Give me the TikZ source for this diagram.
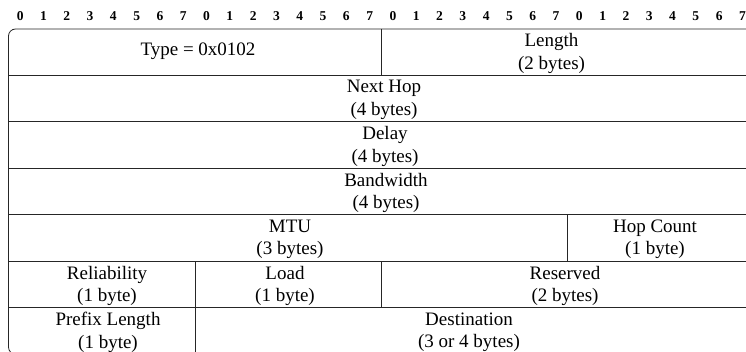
\documentclass[tikz,border=0pt]{standalone}
\usepackage{fontspec}
\setmainfont{Liberation Serif}
\begin{document}
\begin{tikzpicture}[x=1pt,y=-1pt,
  grid/.style={line width=0.8pt, draw=black!85},
  field/.style={font=\fontsize{19}{22.5}\selectfont, align=center, inner sep=0pt, text=black},
  bitnum/.style={font=\fontsize{13.5}{15}\selectfont\bfseries, anchor=base, inner sep=0pt}]
\useasboundingbox (0,0) rectangle (746,352);
\clip (0,0) rectangle (746,352);
% bit numbers
\foreach \i in {0,...,31} {
  \pgfmathtruncatemacro\d{mod(\i,8)}
  \node[bitnum] (b\i) at ({8.5+(\i+0.5)*23.3},20.5) {\d};
}
% outer frame and row lines
\draw[grid, rounded corners=7pt] (8.5,29) rectangle (754,354.15);
\foreach \y in {75.45,121.9,168.35,214.8,261.25,307.7}
  \draw[grid] (8.5,\y) -- (754,\y);
% vertical dividers
\draw[grid] (381.3,29) -- (381.3,75.45);
\draw[grid] (567.7,214.8) -- (567.7,261.25);
\draw[grid] (194.9,261.25) -- (194.9,307.7);
\draw[grid] (381.3,261.25) -- (381.3,307.7);
\draw[grid] (194.9,307.7) -- (194.9,354.15);
% fields
\node[field] (type) at (198,51) {Type = 0x0102};
\node[field] (length) at (551.5,53.5) {Length\\(2 bytes)};
\node[field] (nexthop) at (384,99.95) {Next Hop\\(4 bytes)};
\node[field] (delay) at (385,146.4) {Delay\\(4 bytes)};
\node[field] (bandwidth) at (386,192.85) {Bandwidth\\(4 bytes)};
\node[field] (mtu) at (290,239.3) {MTU\\(3 bytes)};
\node[field] (hopcount) at (655,239.3) {Hop Count\\(1 byte)};
\node[field] (reliability) at (107,285.75) {Reliability\\(1 byte)};
\node[field] (load) at (285,285.75) {Load\\(1 byte)};
\node[field] (reserved) at (565,285.75) {Reserved\\(2 bytes)};
\node[field] (prefix) at (108,332.2) {Prefix Length\\(1 byte)};
\node[field] (dest) at (469,332.2) {Destination\\(3 or 4 bytes)};
\end{tikzpicture}
\end{document}
